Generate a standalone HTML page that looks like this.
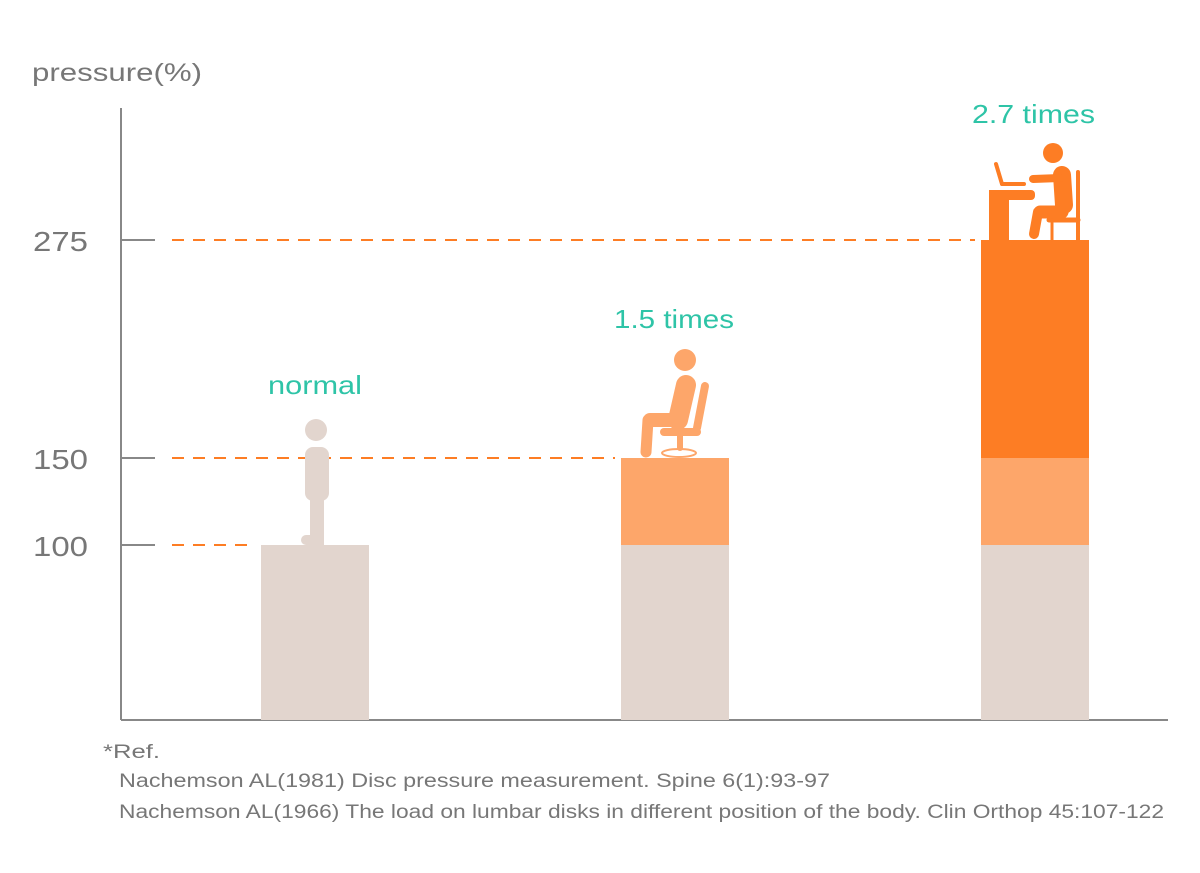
<!DOCTYPE html>
<html><head><meta charset="utf-8"><style>body{margin:0;background:#fff}svg{display:block}</style></head><body>
<svg width="1200" height="873" xmlns="http://www.w3.org/2000/svg" font-family="Liberation Sans, sans-serif">
<rect width="1200" height="873" fill="#fff"/>
<text x="32" y="81" font-size="25" fill="#777" textLength="170" lengthAdjust="spacingAndGlyphs">pressure(%)</text>
<g stroke="#888" stroke-width="2">
<line x1="121" y1="108" x2="121" y2="720"/>
<line x1="121" y1="720" x2="1168" y2="720"/>
<line x1="121" y1="240" x2="155" y2="240"/>
<line x1="121" y1="458" x2="155" y2="458"/>
<line x1="121" y1="545" x2="155" y2="545"/>
</g>
<g font-size="28" fill="#777">
<text x="33" y="251" textLength="55" lengthAdjust="spacingAndGlyphs">275</text><text x="33" y="469" textLength="55" lengthAdjust="spacingAndGlyphs">150</text><text x="33" y="556" textLength="55" lengthAdjust="spacingAndGlyphs">100</text>
</g>
<g stroke="#fd7d24" stroke-width="2" stroke-dasharray="12,9">
<line x1="172" y1="240" x2="975" y2="240"/>
<line x1="172" y1="458" x2="615" y2="458"/>
<line x1="172" y1="545" x2="255" y2="545"/>
</g>
<rect x="261" y="545" width="108" height="175" fill="#e2d5ce"/>
<rect x="621" y="545" width="108" height="175" fill="#e2d5ce"/>
<rect x="621" y="458" width="108" height="87" fill="#fda66a"/>
<rect x="981" y="545" width="108" height="175" fill="#e2d5ce"/>
<rect x="981" y="458" width="108" height="87" fill="#fda66a"/>
<rect x="981" y="240" width="108" height="218" fill="#fd7d24"/>
<g fill="#2ec4a7" font-size="26">
<text x="268" y="394" textLength="94" lengthAdjust="spacingAndGlyphs">normal</text><text x="614" y="328" textLength="120" lengthAdjust="spacingAndGlyphs">1.5 times</text><text x="972" y="123" textLength="123" lengthAdjust="spacingAndGlyphs">2.7 times</text>
</g>
<!-- standing -->
<g fill="#e2d5ce">
<circle cx="316" cy="430" r="11"/>
<rect x="305" y="447" width="24" height="54" rx="8"/>
<rect x="310" y="490" width="14" height="55"/>
<rect x="301" y="535" width="23" height="10" rx="5"/>
</g>
<!-- sitting -->
<g fill="#fda66a" stroke="#fda66a" stroke-linecap="round">
<circle cx="685" cy="360" r="11" stroke="none"/>
<line x1="686" y1="385" x2="678" y2="420" stroke-width="20"/>
<line x1="675" y1="420" x2="650" y2="420" stroke-width="14"/>
<line x1="648" y1="420" x2="646" y2="452" stroke-width="11"/>
<line x1="705" y1="386" x2="697" y2="428" stroke-width="8"/>
<line x1="664" y1="432" x2="697" y2="432" stroke-width="8"/>
<line x1="680" y1="436" x2="680" y2="448" stroke-width="6"/>
<ellipse cx="679" cy="453" rx="17" ry="4" stroke-width="2" fill="none"/>
</g>
<!-- desk -->
<g fill="#fd7d24" stroke="#fd7d24" stroke-linecap="round">
<circle cx="1053" cy="153" r="10" stroke="none"/>
<line x1="996" y1="164" x2="1002" y2="184" stroke-width="4"/>
<line x1="1002" y1="184" x2="1024" y2="184" stroke-width="4"/>
<rect x="989" y="190" width="46" height="10" rx="4" stroke="none"/>
<rect x="989" y="190" width="20" height="50" stroke="none"/>
<line x1="1062" y1="175" x2="1064" y2="205" stroke-width="18"/>
<line x1="1060" y1="178" x2="1033" y2="179" stroke-width="8"/>
<line x1="1062" y1="212" x2="1040" y2="212" stroke-width="13"/>
<line x1="1038" y1="212" x2="1034" y2="234" stroke-width="10"/>
<line x1="1078" y1="172" x2="1078" y2="240" stroke-width="4"/>
<line x1="1049" y1="220" x2="1078" y2="220" stroke-width="5"/>
<line x1="1052" y1="220" x2="1052" y2="240" stroke-width="3"/>
</g>
<text x="103" y="758" font-size="19" fill="#777" textLength="57" lengthAdjust="spacingAndGlyphs">*Ref.</text>
<g font-size="19" fill="#777">
<text x="119" y="787" textLength="711" lengthAdjust="spacingAndGlyphs">Nachemson AL(1981) Disc pressure measurement. Spine 6(1):93-97</text>
<text x="119" y="818" textLength="1045" lengthAdjust="spacingAndGlyphs">Nachemson AL(1966) The load on lumbar disks in different position of the body. Clin Orthop 45:107-122</text>
</g>
</svg>
</body></html>
